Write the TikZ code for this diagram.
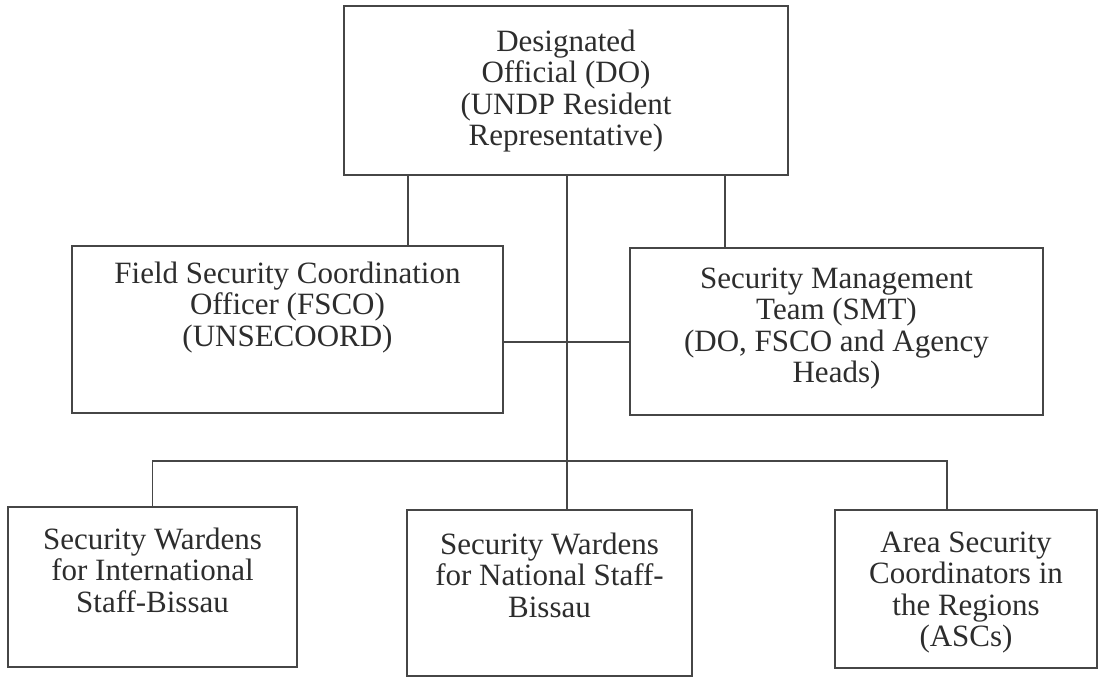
\documentclass[tikz,border=0pt]{standalone}
\usepackage{fontspec}
\setmainfont{Liberation Serif}
\usepackage{tikz}
\usetikzlibrary{positioning,calc}
\usepackage{xcolor}
\definecolor{scanink}{RGB}{45,45,45}
\definecolor{scanline}{RGB}{70,70,70}

\begin{document}
\begin{tikzpicture}[x=1pt,y=-1pt,
  orgbox/.style={draw=scanline,line width=1.3pt,rectangle,inner sep=0pt},
  orgtext/.style={font=\fontsize{31}{31.5}\selectfont,text=scanink,align=center,inner sep=0pt,anchor=north},
  orgline/.style={draw=scanline,line width=1.3pt}]
\useasboundingbox (0,0) rectangle (1099,679);
% Boxes
\node[orgbox,minimum width=444pt,minimum height=169pt] (do) at (566,90.5) {};
\node[orgbox,minimum width=431pt,minimum height=167pt] (fsco) at (287.5,329.5) {};
\node[orgbox,minimum width=413pt,minimum height=167pt] (smt) at (836.5,331.5) {};
\node[orgbox,minimum width=289pt,minimum height=160pt] (wint) at (152.5,587) {};
\node[orgbox,minimum width=285pt,minimum height=166pt] (wnat) at (549.5,593) {};
\node[orgbox,minimum width=262pt,minimum height=158pt] (asc) at (966,589) {};
% Texts
\node[orgtext,below=24pt of do.north] (dotext) {Designated\\Official (DO)\\(UNDP Resident\\Representative)};
\node[orgtext,below=16pt of fsco.north] (fscotext) {Field Security Coordination\\Officer (FSCO)\\(UNSECOORD)};
\node[orgtext,below=20pt of smt.north] (smttext) {Security Management\\Team (SMT)\\(DO, FSCO and Agency\\Heads)};
\node[orgtext,below=21pt of wint.north] (winttext) {Security Wardens\\for International\\Staff-Bissau};
\node[orgtext,below=23pt of wnat.north] (wnattext) {Security Wardens\\for National Staff-\\Bissau};
\node[orgtext,below=22pt of asc.north] (asctext) {Area Security\\Coordinators in\\the Regions\\(ASCs)};
% Branch points
\coordinate (leftdrop) at (408,0);
\coordinate (rightdrop) at (725,0);
\coordinate (link) at (567,342);
\coordinate (bus) at (567,461);
\coordinate (ascdrop) at (947,461);
% Connectors
\draw[orgline] (do.south -| leftdrop) -- (fsco.north -| leftdrop);
\draw[orgline] (do.south -| rightdrop) -- (smt.north -| rightdrop);
\draw[orgline] (do.south -| link) -- (wnat.north -| link);
\draw[orgline] (fsco.east |- link) -- (smt.west |- link);
\draw[orgline] (wint.north) -- (wint.north |- bus) -- (ascdrop) -- (asc.north -| ascdrop);
\end{tikzpicture}
\end{document}
